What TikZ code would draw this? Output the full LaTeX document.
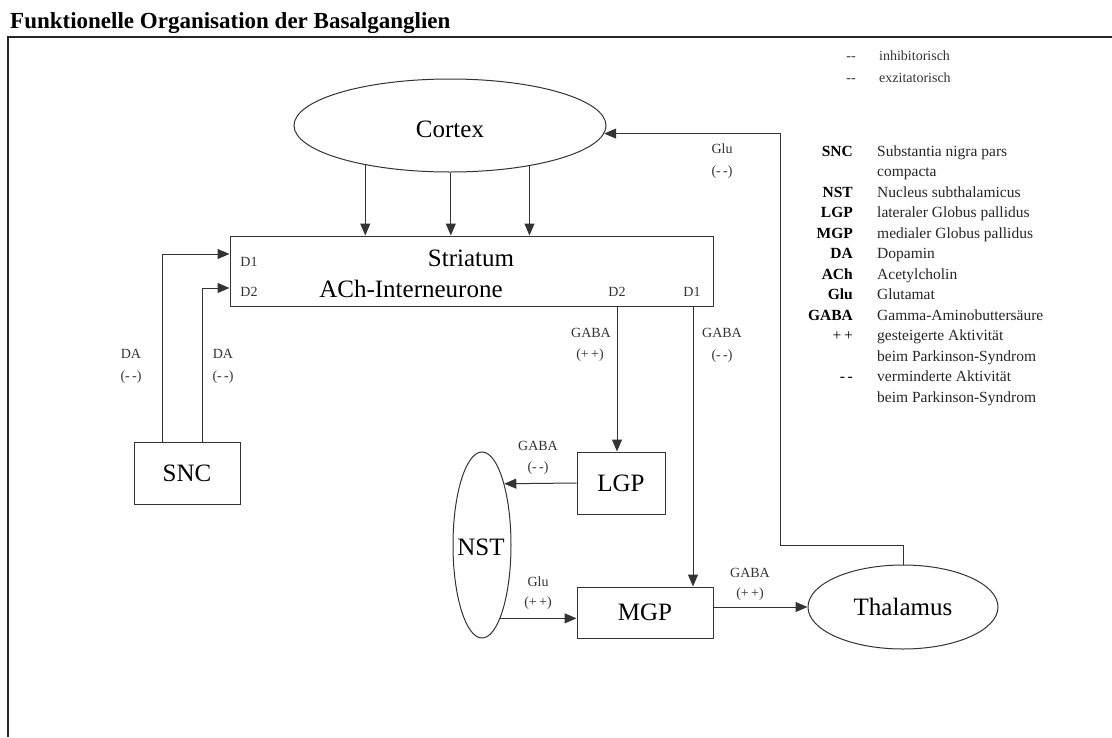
\documentclass[tikz,border=0pt]{standalone}
\usepackage{fontspec}
\setmainfont{Liberation Serif}
\usetikzlibrary{arrows.meta,shapes.geometric}
\begin{document}
\begin{tikzpicture}[x=1pt,y=-1pt,
  wire/.style={draw=black!80,line width=1pt},
  conn/.style={wire,-{Triangle[length=12pt,width=10pt]}},
  box/.style={wire,rectangle,inner sep=0pt,font=\fontsize{25}{30}\selectfont},
  oval/.style={wire,ellipse,inner sep=0pt,font=\fontsize{25}{30}\selectfont},
  bigtext/.style={inner sep=0pt,font=\fontsize{25}{30}\selectfont},
  lab/.style={inner sep=0pt,text=black!80,font=\fontsize{14}{16}\selectfont},
  abbr/.style={inner sep=0pt,anchor=base east,font=\fontsize{15.5}{18}\selectfont\bfseries},
  desc/.style={inner sep=0pt,anchor=base west,text=black!85,font=\fontsize{15.5}{18}\selectfont},
  frame/.style={draw=black!85,line width=2pt}]
\useasboundingbox (0,0) rectangle (1112,737);

% title and frame
\node[inner sep=0pt,anchor=base west,font=\fontsize{23}{28}\selectfont\bfseries] (title) at (10,28)
  {Funktionelle Organisation der Basalganglien};
\draw[frame] (1112,37) -- (8,37) -- (8,737);

% structures
\node[oval,minimum width=312pt,minimum height=93pt] (Cortex) at (450,125.5) {};
\node[bigtext] (cortext) at (450,129) {Cortex};
\node[box,minimum width=483pt,minimum height=70pt] (str) at (471.5,271) {};
\node[bigtext] (strtext) at (471,258) {Striatum};
\node[bigtext] (achtext) at (411,289) {ACh-Interneurone};
\node[lab] (sd1l) at (249,262) {D1};
\node[lab] (sd2l) at (249,292) {D2};
\node[lab] (sd2r) at (617,292) {D2};
\node[lab] (sd1r) at (692,292) {D1};
\node[box,minimum width=106pt,minimum height=62pt] (SNC) at (187,473) {SNC};
\node[box,minimum width=88pt,minimum height=62pt] (LGP) at (621,483) {LGP};
\node[box,minimum width=136pt,minimum height=51pt] (MGP) at (645,612.5) {MGP};
\node[oval,minimum width=58pt,minimum height=186pt] (NST) at (482,545) {};
\node[bigtext] (nsttext) at (481,547) {NST};
\node[oval,minimum width=190pt,minimum height=84pt] (Thalamus) at (903,607) {Thalamus};

% helper coordinates for routing
\coordinate (xa) at (162,254);
\coordinate (xb) at (202,288);
\coordinate (od2) at (617,0);
\coordinate (od1) at (693,0);
\coordinate (fb) at (780,545);

% cortex to striatum
\draw[conn] (Cortex.205) -- (Cortex.205 |- str.north);
\draw[conn] (Cortex.-89.4) -- (Cortex.-89.4 |- str.north);
\draw[conn] (Cortex.-27.3) -- (Cortex.-27.3 |- str.north);

% SNC to striatum
\draw[conn] (xa |- SNC.north) -- (xa) -- (xa -| str.west);
\draw[conn] (xb |- SNC.north) -- (xb) -- (xb -| str.west);

% striatum outputs
\draw[conn] (od2 |- str.south) -- (od2 |- LGP.north);
\draw[conn] (od1 |- str.south) -- (od1 |- MGP.north);

% pallidum, subthalamus, thalamus
\draw[conn] (LGP.west) -- (NST.70.4);
\draw[conn] (NST.-76.3) -- (NST.-76.3 -| MGP.west);
\draw[conn] (Thalamus.west -| MGP.east) -- (Thalamus.west);
\draw[conn] (Thalamus.north) |- (fb) |- (Cortex.-3);

% transmitter labels
\node[lab] (da1a) at (131,354) {DA};
\node[lab] (da1b) at (131,377) {(-\,-)};
\node[lab] (da2a) at (223,354) {DA};
\node[lab] (da2b) at (223,377) {(-\,-)};
\node[lab] (g1a) at (591,333) {GABA};
\node[lab] (g1b) at (590,355) {(+\,+)};
\node[lab] (g2a) at (722,333) {GABA};
\node[lab] (g2b) at (722,356) {(-\,-)};
\node[lab] (g3a) at (538,446) {GABA};
\node[lab] (g3b) at (538,468) {(-\,-)};
\node[lab] (glu1a) at (538,582) {Glu};
\node[lab] (glu1b) at (538,603) {(+\,+)};
\node[lab] (g4a) at (750,573) {GABA};
\node[lab] (g4b) at (750,594) {(+\,+)};
\node[lab] (glu2a) at (722,149) {Glu};
\node[lab] (glu2b) at (722,172) {(-\,-)};

% legend
\node[lab,anchor=base] (lgi) at (851,60) {-{}-};
\node[lab,anchor=base west] (lgit) at (879,60) {inhibitorisch};
\node[lab,anchor=base] (lge) at (851,82) {-{}-};
\node[lab,anchor=base west] (lget) at (879,82) {exzitatorisch};

\foreach \i/\a/\d in {0/SNC/Substantia nigra pars, 1//compacta,
  2/NST/Nucleus subthalamicus, 3/LGP/lateraler Globus pallidus,
  4/MGP/medialer Globus pallidus, 5/DA/Dopamin, 6/ACh/Acetylcholin,
  7/Glu/Glutamat, 8/GABA/Gamma-Aminobutters\"aure,
  9/{\mdseries+\,+}/gesteigerte Aktivit\"at, 10//beim Parkinson-Syndrom,
  11/{\mdseries-\,-}/verminderte Aktivit\"at, 12//beim Parkinson-Syndrom}{
  \node[abbr] (ab\i) at (853,{156+20.5*\i}) {\a};
  \node[desc] (de\i) at (877,{156+20.5*\i}) {\d};
}
\end{tikzpicture}
\end{document}
